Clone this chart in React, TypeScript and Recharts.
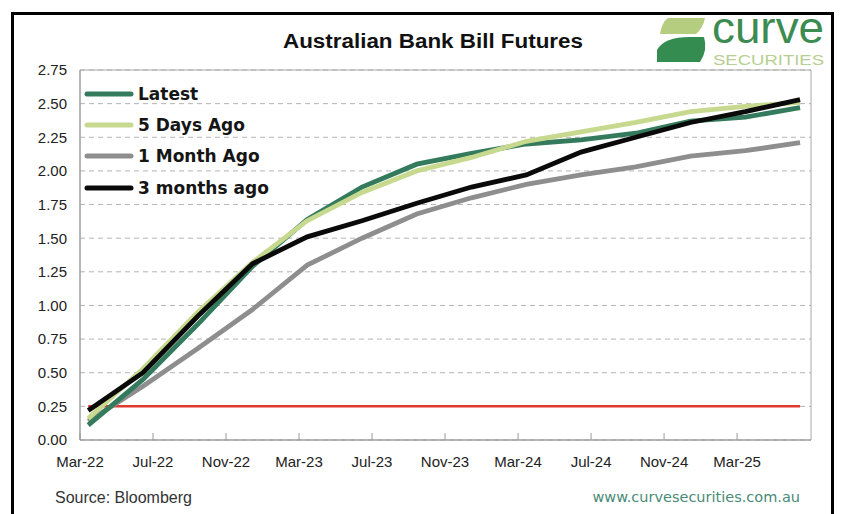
import React from "react";
import { LineChart, Line, XAxis, YAxis, CartesianGrid, ReferenceArea, Legend } from "recharts";

// Quarterly bank bill futures contracts (x = months since Mar-22)
const contracts = ["Mar-22", "Jun-22", "Sep-22", "Dec-22", "Mar-23", "Jun-23", "Sep-23", "Dec-23", "Mar-24", "Jun-24", "Sep-24", "Dec-24", "Mar-25", "Jun-25"];
const contractMonth = [0.45, 3.45, 6.45, 9.45, 12.45, 15.45, 18.45, 21.45, 24.45, 27.45, 30.45, 33.45, 36.45, 39.45];

const latest = [0.11, 0.45, 0.86, 1.29, 1.64, 1.88, 2.05, 2.13, 2.2, 2.23, 2.28, 2.37, 2.4, 2.47];
const fiveDaysAgo = [0.16, 0.53, 0.95, 1.32, 1.63, 1.84, 2.0, 2.1, 2.22, 2.29, 2.36, 2.44, 2.48, 2.51];
const oneMonthAgo = [0.14, 0.4, 0.68, 0.97, 1.3, 1.5, 1.68, 1.8, 1.9, 1.97, 2.03, 2.11, 2.15, 2.21];
const threeMonthsAgo = [0.22, 0.5, 0.92, 1.31, 1.51, 1.63, 1.76, 1.88, 1.97, 2.14, 2.25, 2.36, 2.44, 2.53];
const cashRate = [0.25, 0.25, 0.25, 0.25, 0.25, 0.25, 0.25, 0.25, 0.25, 0.25, 0.25, 0.25, 0.25, 0.25];

const xTickMonths = [0, 4, 8, 12, 16, 20, 24, 28, 32, 36];
const xTickLabels = ["Mar-22", "Jul-22", "Nov-22", "Mar-23", "Jul-23", "Nov-23", "Mar-24", "Jul-24", "Nov-24", "Mar-25"];
const yTicks = [0, 0.25, 0.5, 0.75, 1.0, 1.25, 1.5, 1.75, 2.0, 2.25, 2.5, 2.75];

const seriesDefs = [
  { key: "latest", name: "Latest", color: "#347a5c" },
  { key: "five", name: "5 Days Ago", color: "#c6d98e" },
  { key: "month", name: "1 Month Ago", color: "#8e8e8e" },
  { key: "three", name: "3 months ago", color: "#0a0a0a" },
];

const data = contracts.map((c, i) => ({
  contract: c,
  m: contractMonth[i],
  latest: latest[i],
  five: fiveDaysAgo[i],
  month: oneMonthAgo[i],
  three: threeMonthsAgo[i],
  cash: cashRate[i],
}));

const LegendBox = () => (
  <div style={{ display: "flex", flexDirection: "column" }}>
    {seriesDefs.map((s) => (
      <div key={s.key} style={{ display: "flex", alignItems: "center", height: 31.3 }}>
        <svg width={52} height={8} style={{ marginRight: 3 }}>
          <line x1={4} y1={4} x2={48} y2={4} stroke={s.color} strokeWidth={5} strokeLinecap="round" />
        </svg>
        <span style={{ fontFamily: "DejaVu Sans", fontWeight: "bold", fontSize: 17, color: "#151515", whiteSpace: "nowrap" }}>
          {s.name}
        </span>
      </div>
    ))}
  </div>
);

export default function App() {
  return (
    <div style={{ position: "relative", width: 843, height: 514, margin: "-8px 0 0 -8px", background: "#fff", overflow: "hidden" }}>
      <div style={{ position: "absolute", left: 0, top: 0 }}>
        <LineChart width={843} height={514} data={data} margin={{ top: 70, right: 32, bottom: 44, left: 40 }}>
          <CartesianGrid horizontal vertical={false} stroke="#b4b4b4" strokeDasharray="5 4" />
          <XAxis
            type="number"
            dataKey="m"
            domain={[0, 40.05]}
            ticks={xTickMonths}
            tickFormatter={(v: number) => xTickLabels[xTickMonths.indexOf(v)] ?? ""}
            interval={0}
            height={30}
            stroke="#9a9a9a"
            tickSize={-7}
            tickMargin={23}
            tick={{ fill: "#222", fontSize: 15, fontFamily: "Liberation Sans, Arial" }}
          />
          <YAxis
            type="number"
            domain={[0, 2.75]}
            ticks={yTicks}
            tickFormatter={(v: number) => v.toFixed(2)}
            width={40}
            stroke="#9a9a9a"
            tickLine={false}
            tickMargin={7}
            interval={0}
            tick={{ fill: "#222", fontSize: 15, fontFamily: "Liberation Sans, Arial" }}
          />
          <ReferenceArea x1={0} x2={40.05} y1={0} y2={2.75} fill="none" stroke="#a8a8a8" strokeWidth={1} />
          <Legend
            layout="vertical"
            align="center"
            verticalAlign="middle"
            content={<LegendBox />}
            wrapperStyle={{ left: 83, top: 78, width: "auto" }}
          />
          <Line dataKey="cash" stroke="#e03a2e" strokeWidth={2.5} dot={false} isAnimationActive={false} legendType="none" />
          <Line dataKey="month" name="1 Month Ago" stroke="#8e8e8e" strokeWidth={4.8} dot={false} isAnimationActive={false} />
          <Line dataKey="latest" name="Latest" stroke="#347a5c" strokeWidth={4.8} dot={false} isAnimationActive={false} />
          <Line dataKey="five" name="5 Days Ago" stroke="#c6d98e" strokeWidth={4.8} dot={false} isAnimationActive={false} />
          <Line dataKey="three" name="3 months ago" stroke="#0a0a0a" strokeWidth={4.8} dot={false} isAnimationActive={false} />
        </LineChart>
      </div>
      <svg width={843} height={514} style={{ position: "absolute", left: 0, top: 0, pointerEvents: "none" }}>
        <rect x={12.5} y={13.5} width={820} height={520} fill="none" stroke="#000" strokeWidth={3} />
        <line x1={838} y1={12} x2={838} y2={514} stroke="#000" strokeWidth={2} />
        <text x={433} y={48} textAnchor="middle" fontFamily="Liberation Sans, Arial" fontWeight="bold" fontSize={20} fill="#111" textLength={300} lengthAdjust="spacingAndGlyphs">
          Australian Bank Bill Futures
        </text>
        {/* logo mark */}
        <path d="M668 18 L705 18 Q703 28 696 34 L660 34 Q662 22 668 18 Z" fill="#b5cd7f" />
        <path d="M657 62 L657 50 Q664 37 690 37 L704 37 Q708 50 700 62 Z" fill="#348c50" />
        <text x={712} y={43} fontFamily="Liberation Sans, Arial" fontSize={44} fill="#3c8c52" textLength={112} lengthAdjust="spacingAndGlyphs">
          curve
        </text>
        <text x={713} y={65} fontFamily="Liberation Sans, Arial" fontSize={14} fill="#b7cf90" textLength={111} lengthAdjust="spacingAndGlyphs">
          SECURITIES
        </text>
        <text x={55} y={503} fontFamily="Liberation Sans, Arial" fontSize={16} fill="#333">
          Source: Bloomberg
        </text>
        <text x={800} y={502} textAnchor="end" fontFamily="DejaVu Sans" fontSize={14.5} fill="#4a8a78">
          www.curvesecurities.com.au
        </text>
      </svg>
    </div>
  );
}
